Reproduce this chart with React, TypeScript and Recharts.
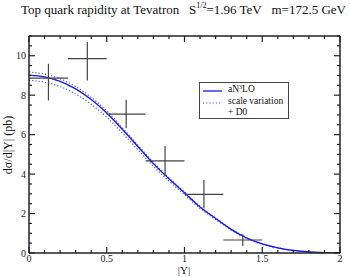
import React from 'react';
import { ComposedChart, Line, Scatter, XAxis, YAxis, ErrorBar, Legend } from 'recharts';

const rapidity = [0, 0.1, 0.2, 0.3, 0.4, 0.5, 0.6, 0.7, 0.8, 0.9, 1.0, 1.1, 1.2, 1.3, 1.4, 1.5, 1.6, 1.7, 1.8, 1.9, 2.0];
const aN3LO = [9.02, 8.93, 8.7, 8.32, 7.78, 7.1, 6.27, 5.4, 4.53, 3.76, 3.05, 2.33, 1.75, 1.2, 0.76, 0.46, 0.26, 0.13, 0.06, 0.02, 0.0];
const scaleUp = [9.17, 9.07, 8.83, 8.44, 7.89, 7.2, 6.35, 5.47, 4.59, 3.81, 3.09, 2.36, 1.78, 1.22, 0.78, 0.47, 0.27, 0.13, 0.06, 0.02, 0.0];
const scaleDown = [8.75, 8.66, 8.44, 8.06, 7.54, 6.88, 6.08, 5.24, 4.4, 3.65, 2.96, 2.26, 1.7, 1.16, 0.74, 0.44, 0.25, 0.12, 0.06, 0.02, 0.0];

const d0Y = [0.125, 0.375, 0.625, 0.875, 1.125, 1.375];
const d0Sigma = [8.86, 9.85, 7.04, 4.67, 2.97, 0.66];
const d0ErrUp = [0.73, 0.85, 0.73, 0.76, 0.73, 0.29];
const d0ErrDown = [1.13, 1.1, 0.71, 0.77, 0.7, 0.3];
const d0BinHalf = [0.125, 0.125, 0.125, 0.125, 0.125, 0.125];

const xTicks = [0, 0.1, 0.2, 0.3, 0.4, 0.5, 0.6, 0.7, 0.8, 0.9, 1, 1.1, 1.2, 1.3, 1.4, 1.5, 1.6, 1.7, 1.8, 1.9, 2];
const xMajor = [0, 0.5, 1, 1.5, 2];
const xMajorLabels = ['0', '0.5', '1', '1.5', '2'];
const yTicks = [0, 0.5, 1, 1.5, 2, 2.5, 3, 3.5, 4, 4.5, 5, 5.5, 6, 6.5, 7, 7.5, 8, 8.5, 9, 9.5, 10, 10.5, 11];
const yMajor = [0, 2, 4, 6, 8, 10];
const yMajorLabels = ['0', '2', '4', '6', '8', '10'];

const curveData = rapidity.map((x, i) => ({ x, c: aN3LO[i], up: scaleUp[i], lo: scaleDown[i] }));
const d0Data = d0Y.map((x, i) => ({
  x,
  y: d0Sigma[i],
  ex: [d0BinHalf[i], d0BinHalf[i]],
  ey: [d0ErrDown[i], d0ErrUp[i]],
}));

const FRAME = '#222';
const FONT = "'Liberation Serif', 'Times New Roman', 'DejaVu Serif', serif";
const near = (arr: number[], v: number) => arr.findIndex((a) => Math.abs(a - v) < 1e-6);

const BottomTick = (props: any) => {
  const { x, y, payload } = props;
  const idx = near(xMajor, payload.value);
  const major = idx >= 0;
  return (
    <g>
      <line x1={x} x2={x} y1={y} y2={y - (major ? 6 : 3)} stroke={FRAME} strokeWidth={1.2} />
      {major && (
        <text x={x} y={y + 8.5} textAnchor="middle" style={{ fontFamily: FONT }} fontSize={10} fill="#222">
          {xMajorLabels[idx]}
        </text>
      )}
    </g>
  );
};

const TopTick = (props: any) => {
  const { x, y, payload } = props;
  const major = near(xMajor, payload.value) >= 0;
  return <line x1={x} x2={x} y1={y} y2={y + (major ? 6 : 3)} stroke={FRAME} strokeWidth={1.2} />;
};

const LeftTick = (props: any) => {
  const { x, y, payload } = props;
  const idx = near(yMajor, payload.value);
  const major = idx >= 0;
  return (
    <g>
      <line x1={x} x2={x + (major ? 6 : 3)} y1={y} y2={y} stroke={FRAME} strokeWidth={1.2} />
      {major && (
        <text x={x - 3} y={y + 3.5} textAnchor="end" style={{ fontFamily: FONT }} fontSize={10} fill="#222">
          {yMajorLabels[idx]}
        </text>
      )}
    </g>
  );
};

const RightTick = (props: any) => {
  const { x, y, payload } = props;
  const major = near(yMajor, payload.value) >= 0;
  return <line x1={x} x2={x - (major ? 6 : 3)} y1={y} y2={y} stroke={FRAME} strokeWidth={1.2} />;
};

const LegendBox = () => (
  <div
    style={{
      border: '1px solid #444',
      background: '#fff',
      width: 88,
      height: 35,
      fontFamily: FONT,
      fontSize: 9.5,
      color: '#111',
      position: 'relative',
      boxSizing: 'content-box',
    }}
  >
    <svg width={20} height={30} style={{ position: 'absolute', left: 3, top: 2 }}>
      <line x1={0} x2={19} y1={6} y2={6} stroke="#1515f0" strokeWidth={1.3} />
      <line x1={0} x2={19} y1={18} y2={18} stroke="#5050ff" strokeWidth={1.2} strokeDasharray="1.2 2" />
    </svg>
    <div style={{ position: 'absolute', left: 28, top: 1, lineHeight: '11px', whiteSpace: 'nowrap' }}>
      aN<sup style={{ fontSize: 6, verticalAlign: 'top', lineHeight: '6px' }}>3</sup>LO
    </div>
    <div style={{ position: 'absolute', left: 28, top: 13, lineHeight: '11px', whiteSpace: 'nowrap' }}>
      scale variation
    </div>
    <div style={{ position: 'absolute', left: 28, top: 24, lineHeight: '11px', whiteSpace: 'nowrap' }}>
      + D0
    </div>
  </div>
);

export default function App() {
  return (
    <div style={{ position: 'absolute', left: 0, top: 0, width: 350, height: 277, background: '#fff', fontFamily: FONT }}>
      <ComposedChart width={350} height={277} margin={{ top: 0, right: 0, bottom: 0, left: 0 }}>
        <XAxis
          xAxisId="b"
          type="number"
          dataKey="x"
          domain={[0, 2]}
          ticks={xTicks}
          interval={0}
          allowDataOverflow
          height={24}
          tickSize={0}
          tickMargin={0}
          tickLine={false}
          axisLine={{ stroke: FRAME, strokeWidth: 1.5 }}
          tick={<BottomTick />}
        />
        <XAxis
          xAxisId="t"
          orientation="top"
          type="number"
          dataKey="x"
          domain={[0, 2]}
          ticks={xTicks}
          interval={0}
          allowDataOverflow
          height={36}
          tickSize={0}
          tickMargin={0}
          tickLine={false}
          axisLine={{ stroke: FRAME, strokeWidth: 1.5 }}
          tick={<TopTick />}
        />
        <YAxis
          yAxisId="l"
          type="number"
          domain={[0, 11]}
          ticks={yTicks}
          interval={0}
          allowDataOverflow
          width={29}
          tickSize={0}
          tickMargin={0}
          tickLine={false}
          axisLine={{ stroke: FRAME, strokeWidth: 1.5 }}
          tick={<LeftTick />}
        />
        <YAxis
          yAxisId="r"
          orientation="right"
          type="number"
          domain={[0, 11]}
          ticks={yTicks}
          interval={0}
          allowDataOverflow
          width={10}
          tickSize={0}
          tickMargin={0}
          tickLine={false}
          axisLine={{ stroke: FRAME, strokeWidth: 1.5 }}
          tick={<RightTick />}
        />
        <Line
          xAxisId="t"
          yAxisId="r"
          data={curveData}
          dataKey="c"
          stroke="none"
          dot={false}
          activeDot={false}
          legendType="none"
          isAnimationActive={false}
        />
        <Line
          xAxisId="b"
          yAxisId="l"
          data={curveData}
          dataKey="up"
          type="monotone"
          stroke="#5050ff"
          strokeWidth={1.2}
          strokeDasharray="1.2 2"
          dot={false}
          activeDot={false}
          isAnimationActive={false}
        />
        <Line
          xAxisId="b"
          yAxisId="l"
          data={curveData}
          dataKey="lo"
          type="monotone"
          stroke="#5050ff"
          strokeWidth={1.2}
          strokeDasharray="1.2 2"
          dot={false}
          activeDot={false}
          isAnimationActive={false}
        />
        <Line
          xAxisId="b"
          yAxisId="l"
          data={curveData}
          dataKey="c"
          type="monotone"
          stroke="#1515f0"
          strokeWidth={1.3}
          dot={false}
          activeDot={false}
          isAnimationActive={false}
        />
        <Scatter
          xAxisId="b"
          yAxisId="l"
          data={d0Data}
          dataKey="y"
          shape={() => <g />}
          isAnimationActive={false}
        >
          <ErrorBar dataKey="ey" direction="y" width={0} stroke="#444" strokeWidth={1.2} isAnimationActive={false} />
          <ErrorBar dataKey="ex" direction="x" width={0} stroke="#444" strokeWidth={1.2} isAnimationActive={false} />
        </Scatter>
        <Legend
          layout="horizontal"
          verticalAlign="middle"
          align="center"
          content={() => <LegendBox />}
          wrapperStyle={{ position: 'absolute', left: 199, top: 82, width: 90, height: 37 }}
        />
      </ComposedChart>
      <div
        style={{
          position: 'absolute',
          left: 21,
          top: 2,
          fontFamily: FONT,
          fontSize: 13,
          whiteSpace: 'nowrap',
          color: '#111',
        }}
      >
        Top quark rapidity at Tevatron&nbsp;&nbsp;&nbsp;S
        <sup style={{ fontSize: 8, verticalAlign: 'top', lineHeight: '8px' }}>1/2</sup>=1.96 TeV&nbsp;&nbsp;&nbsp;m=172.5 GeV
      </div>
      <div
        style={{
          position: 'absolute',
          left: 8,
          top: 145,
          transform: 'translate(-50%, -50%) rotate(-90deg)',
          fontFamily: FONT,
          fontSize: 12,
          whiteSpace: 'nowrap',
          color: '#111',
        }}
      >
        dσ/d|Y| (pb)
      </div>
      <div
        style={{
          position: 'absolute',
          left: 184,
          top: 270,
          transform: 'translate(-50%, -50%)',
          fontFamily: FONT,
          fontSize: 11,
          lineHeight: '11px',
          whiteSpace: 'nowrap',
          color: '#111',
        }}
      >
        |Y|
      </div>
    </div>
  );
}
